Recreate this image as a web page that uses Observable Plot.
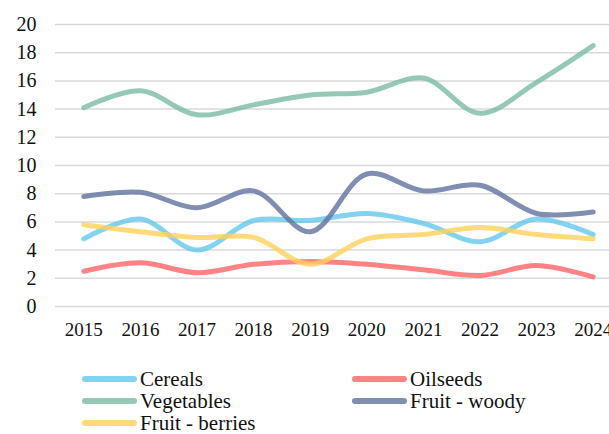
<!DOCTYPE html>
<html>
<head>
<meta charset="utf-8">
<script src="https://cdn.jsdelivr.net/npm/d3@7"></script>
<script src="https://cdn.jsdelivr.net/npm/@observablehq/plot@0.6"></script>
<style>
  html, body { margin: 0; padding: 0; background: #fff; }
  body { width: 609px; height: 434px; position: relative; overflow: hidden; font-family: "Liberation Serif", "DejaVu Serif", serif; }
  #legend { position: absolute; left: 82px; top: 368px; display: grid; grid-template-columns: 270px 200px; row-gap: 0; }
  .item { display: flex; align-items: center; height: 22px; line-height: 22px; font-size: 21px; color: #111; white-space: nowrap; }
  .sw { width: 55px; height: 6px; border-radius: 3px; margin-right: 3px; }
</style>
</head>
<body>
<div id="chart"></div>
<div id="legend"></div>
<script>
const years = [2015, 2016, 2017, 2018, 2019, 2020, 2021, 2022, 2023, 2024];
const seriesNames = ["Cereals", "Oilseeds", "Vegetables", "Fruit - woody", "Fruit - berries"];
const cereals      = [4.8, 6.2, 4.0, 6.1, 6.1, 6.6, 5.9, 4.6, 6.2, 5.1];
const oilseeds     = [2.5, 3.1, 2.4, 3.0, 3.2, 3.0, 2.6, 2.2, 2.9, 2.1];
const vegetables   = [14.1, 15.3, 13.6, 14.3, 15.0, 15.2, 16.2, 13.7, 15.9, 18.5];
const fruitWoody   = [7.8, 8.1, 7.0, 8.2, 5.3, 9.4, 8.2, 8.6, 6.6, 6.7];
const fruitBerries = [5.8, 5.3, 4.9, 4.9, 3.0, 4.8, 5.1, 5.6, 5.1, 4.8];
const yTicks = [0, 2, 4, 6, 8, 10, 12, 14, 16, 18, 20];
const colors = ["#64C8EC", "#FF6466", "#7ABBA3", "#60739E", "#FFD15A"];

const valueArrays = [cereals, oilseeds, vegetables, fruitWoody, fruitBerries];
const data = seriesNames.flatMap((name, i) =>
  years.map((year, j) => ({ series: name, year, value: valueArrays[i][j] })));

const serif = "'Liberation Serif', 'DejaVu Serif', serif";
const chart = Plot.plot({
  width: 609,
  height: 350,
  marginLeft: 55,
  marginRight: 0,
  marginTop: 24,
  marginBottom: 44,
  style: { fontSize: "19px", color: "#111", background: "#fff" },
  x: { type: "linear", domain: [2014.5, 2024.5], range: [55, 621] },
  y: { domain: [0, 20] },
  color: { domain: seriesNames, range: colors },
  marks: [
    Plot.ruleY(yTicks, { stroke: "#d9d9d9", strokeWidth: 1.5 }),
    Plot.axisY({ ticks: yTicks, tickSize: 0, tickPadding: 19, label: null, fontSize: 20 }),
    Plot.axisX({ ticks: years, tickFormat: d => String(d), tickSize: 0, tickPadding: 16, label: null, fontSize: 19 }),
    Plot.line(data, {
      x: "year", y: "value", z: "series", stroke: "series",
      curve: "catmull-rom", strokeWidth: 5, strokeOpacity: 0.8,
      strokeLinecap: "round", strokeLinejoin: "round"
    })
  ]
});
chart.style.fontFamily = serif;
chart.querySelectorAll("text").forEach(t => { t.style.fontFamily = serif; });
document.getElementById("chart").appendChild(chart);

const legend = document.getElementById("legend");
seriesNames.forEach((name, i) => {
  const item = document.createElement("div");
  item.className = "item";
  const sw = document.createElement("span");
  sw.className = "sw";
  sw.style.background = colors[i];
  sw.style.opacity = 0.8;
  item.appendChild(sw);
  const t = document.createElement("span");
  t.textContent = name;
  item.appendChild(t);
  legend.appendChild(item);
});
</script>
</body>
</html>
